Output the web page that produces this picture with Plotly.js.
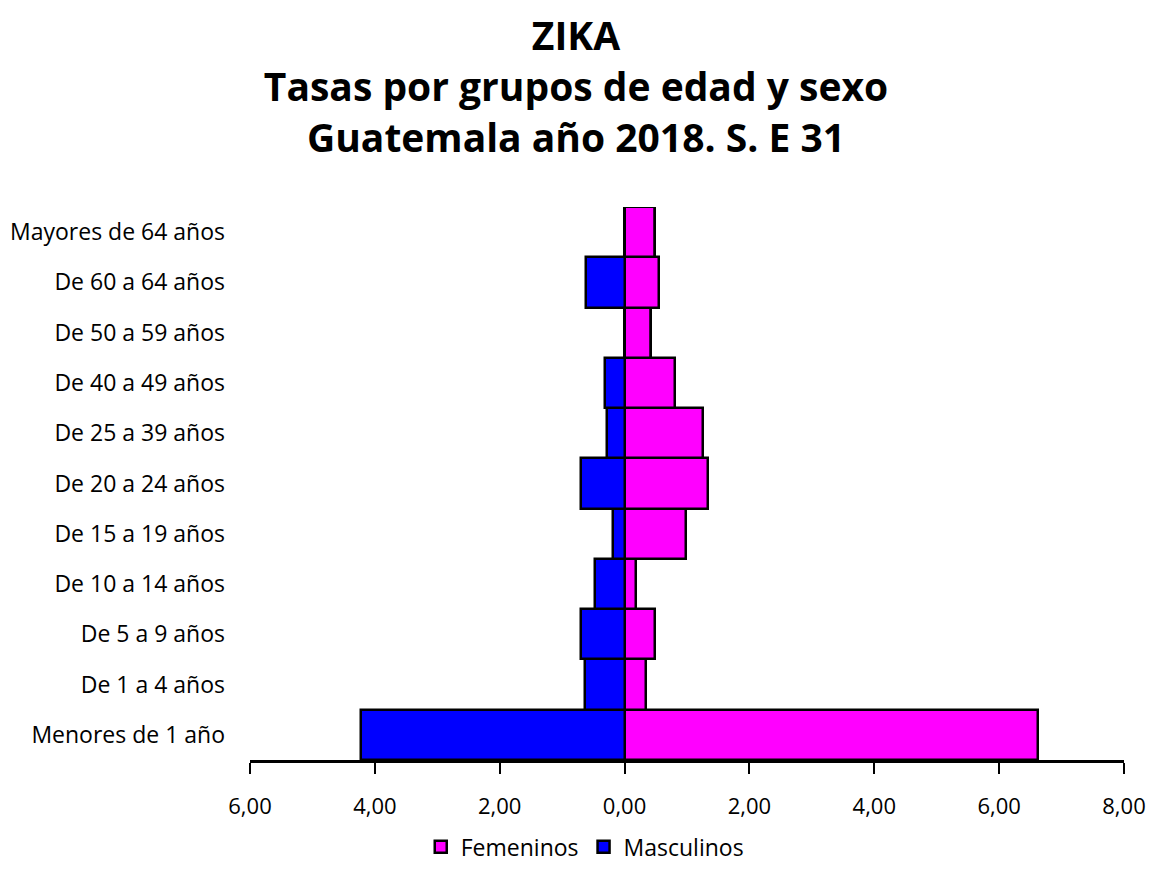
<!DOCTYPE html>
<html>
<head>
<meta charset="utf-8">
<script src="https://cdn.plot.ly/plotly-3.0.1.min.js"></script>
<style>html,body{margin:0;padding:0;background:#fff;}#chart{width:1152px;height:881px;}</style>
</head>
<body>
<div id="chart"></div>
<script>
const categories = ["Menores de 1 año","De 1 a 4 años","De 5 a 9 años","De 10 a 14 años","De 15 a 19 años","De 20 a 24 años","De 25 a 39 años","De 40 a 49 años","De 50 a 59 años","De 60 a 64 años","Mayores de 64 años"];
const femeninos = [6.62, 0.35, 0.49, 0.19, 0.99, 1.34, 1.25, 0.80, 0.42, 0.55, 0.49];
const masculinos = [4.22, 0.64, 0.70, 0.48, 0.19, 0.70, 0.28, 0.32, 0.00, 0.61, 0.00];
const tickVals = [-6, -4, -2, 0, 2, 4, 6, 8];
const tickText = ["6,00","4,00","2,00","0,00","2,00","4,00","6,00","8,00"];

const font = "Open Sans, Liberation Sans, sans-serif";
const traces = [
  {type:"bar", orientation:"h", name:"Femeninos", y:categories, x:femeninos,
   marker:{color:"#FF00FF", line:{color:"#000", width:2.5}}, hoverinfo:"x+y"},
  {type:"bar", orientation:"h", name:"Masculinos", y:categories, x:masculinos.map(v => -v),
   customdata: masculinos, hovertemplate:"%{y}: %{customdata}<extra>Masculinos</extra>",
   marker:{color:"#0000FF", line:{color:"#000", width:2.5}}}
];
const layout = {
  width:1152, height:881,
  paper_bgcolor:"#fff", plot_bgcolor:"#fff",
  font:{family:font, size:23, color:"#000"},
  title:{text:"<b>ZIKA</b><br><b>Tasas por grupos de edad y sexo</b><br><b>Guatemala año 2018. S. E 31</b>",
         font:{family:font, size:39, color:"#000"}, x:0.5, xanchor:"center",
         y:0.943, yanchor:"middle", yref:"container"},
  barmode:"relative", bargap:0,
  margin:{l:250, r:28, t:207, b:121},
  xaxis:{range:[-6,8], tickvals:tickVals, ticktext:tickText, showgrid:false,
         zeroline:true, zerolinecolor:"#000", zerolinewidth:2.5,
         showline:true, linecolor:"#000", linewidth:2.5,
         ticks:"outside", ticklen:11, tickwidth:2, tickcolor:"#000",
         ticklabelstandoff:14,
         tickfont:{family:font, size:22}, fixedrange:true},
  yaxis:{type:"category", categoryorder:"array", categoryarray:categories,
         showgrid:false, showline:false, zeroline:false, ticks:"",
         ticklabelstandoff:24, tickfont:{family:font, size:23}, automargin:false},
  legend:{orientation:"h", x:0.383, xanchor:"center", y:-0.118, yanchor:"top",
          traceorder:"normal", font:{family:font, size:23}, itemwidth:30},
  showlegend:true
};
Plotly.newPlot("chart", traces, layout, {displayModeBar:false, staticPlot:false});
</script>
</body>
</html>
